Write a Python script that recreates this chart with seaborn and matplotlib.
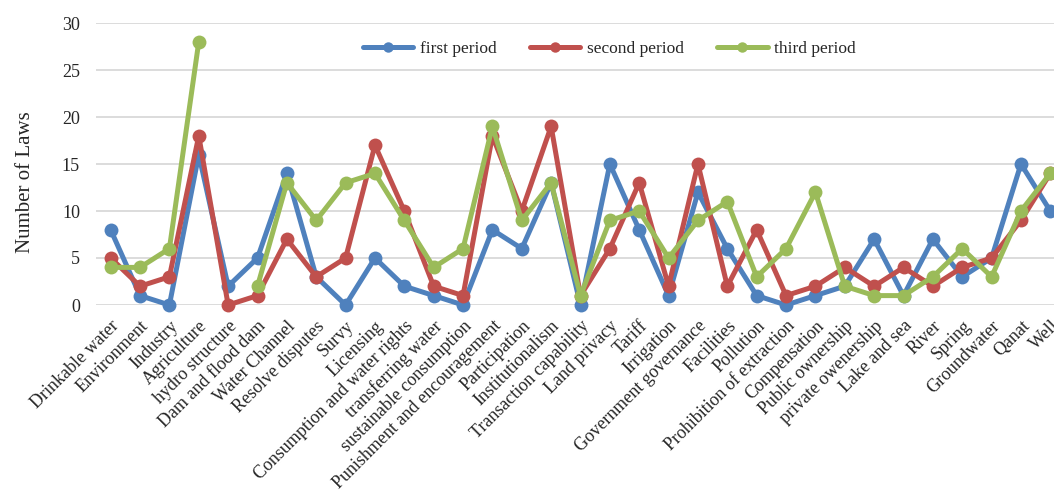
import numpy as np
import pandas as pd
import matplotlib
matplotlib.use('Agg')
import matplotlib.pyplot as plt
import seaborn as sns

categories = ["Drinkable water", "Environment", "Industry", "Agriculture", "hydro structure",
              "Dam and flood dam", "Water Channel", "Resolve disputes", "Survy", "Licensing",
              "Consumption and water rights", "transferring water", "sustainable consumption",
              "Punishment and encouragement", "Participation", "Institutionalism",
              "Transaction capability", "Land privacy", "Tariff", "Irrigation",
              "Government governance", "Facilities", "Pollution", "Prohibition of extraction",
              "Compensation", "Public ownership", "private owenership", "Lake and sea", "River",
              "Spring", "Groundwater", "Qanat", "Well"]
first = [8, 1, 0, 16, 2, 5, 14, 3, 0, 5, 2, 1, 0, 8, 6, 13, 0, 15, 8, 1, 12, 6, 1, 0, 1, 2, 7, 1, 7, 3, 5, 15, 10]
second = [5, 2, 3, 18, 0, 1, 7, 3, 5, 17, 10, 2, 1, 18, 10, 19, 1, 6, 13, 2, 15, 2, 8, 1, 2, 4, 2, 4, 2, 4, 5, 9, 14]
third = [4, 4, 6, 28, np.nan, 2, 13, 9, 13, 14, 9, 4, 6, 19, 9, 13, 1, 9, 10, 5, 9, 11, 3, 6, 12, 2, 1, 1, 3, 6, 3, 10, 14]
periods = ["first period", "second period", "third period"]
colors = ["#4F81BD", "#C0504D", "#9BBB59"]

sns.set_theme(style="white")
plt.rcParams['font.family'] = ['Liberation Serif', 'DejaVu Serif']

rows = []
for name, vals in zip(periods, [first, second, third]):
    for i, v in enumerate(vals):
        rows.append({"idx": i, "value": v, "period": name})
df = pd.DataFrame(rows)

fig = plt.figure(figsize=(10.54, 4.94), dpi=100)
ax = fig.add_axes([96/1054, 1-305/494, 969/1054, 282/494])
for name, col in zip(periods, colors):
    sub = df[df.period == name]
    # split on missing values so gaps stay open
    ok = sub.value.notna()
    seg = (~ok).cumsum()
    first_seg = True
    for _, part in sub[ok].groupby(seg[ok]):
        sns.lineplot(data=part, x="idx", y="value", color=col, lw=3.6, marker="o",
                     markersize=10, markeredgewidth=0, ax=ax, clip_on=False,
                     label=name if first_seg else None, legend=False)
        first_seg = False

ax.set_xlim(-0.5, len(categories) - 0.5)
ax.set_ylim(0, 30)
ax.set_yticks(range(0, 31, 5))
ax.set_xticks(range(len(categories)))
ax.set_xticklabels(categories, rotation=45, ha="right", rotation_mode="anchor", fontsize=13)
ax.tick_params(axis="y", labelsize=13, length=0, pad=11.5)
ax.tick_params(axis="x", length=0, pad=9)
ax.grid(axis="y", color="#D9D9D9", lw=1.3)
ax.set_axisbelow(True)
for s in ax.spines.values():
    s.set_visible(False)
ax.set_xlabel("")
ax.set_ylabel("Number of Laws", fontsize=15)
ax.yaxis.set_label_coords(-0.063, 0.436)
ax.legend(loc="center", bbox_to_anchor=(0.530, 0.907), ncol=3, frameon=False,
          fontsize=12.5, handlelength=2.9, handletextpad=0.4, columnspacing=1.9,
          markerscale=0.75)
fig.savefig("out.png", dpi=100)
